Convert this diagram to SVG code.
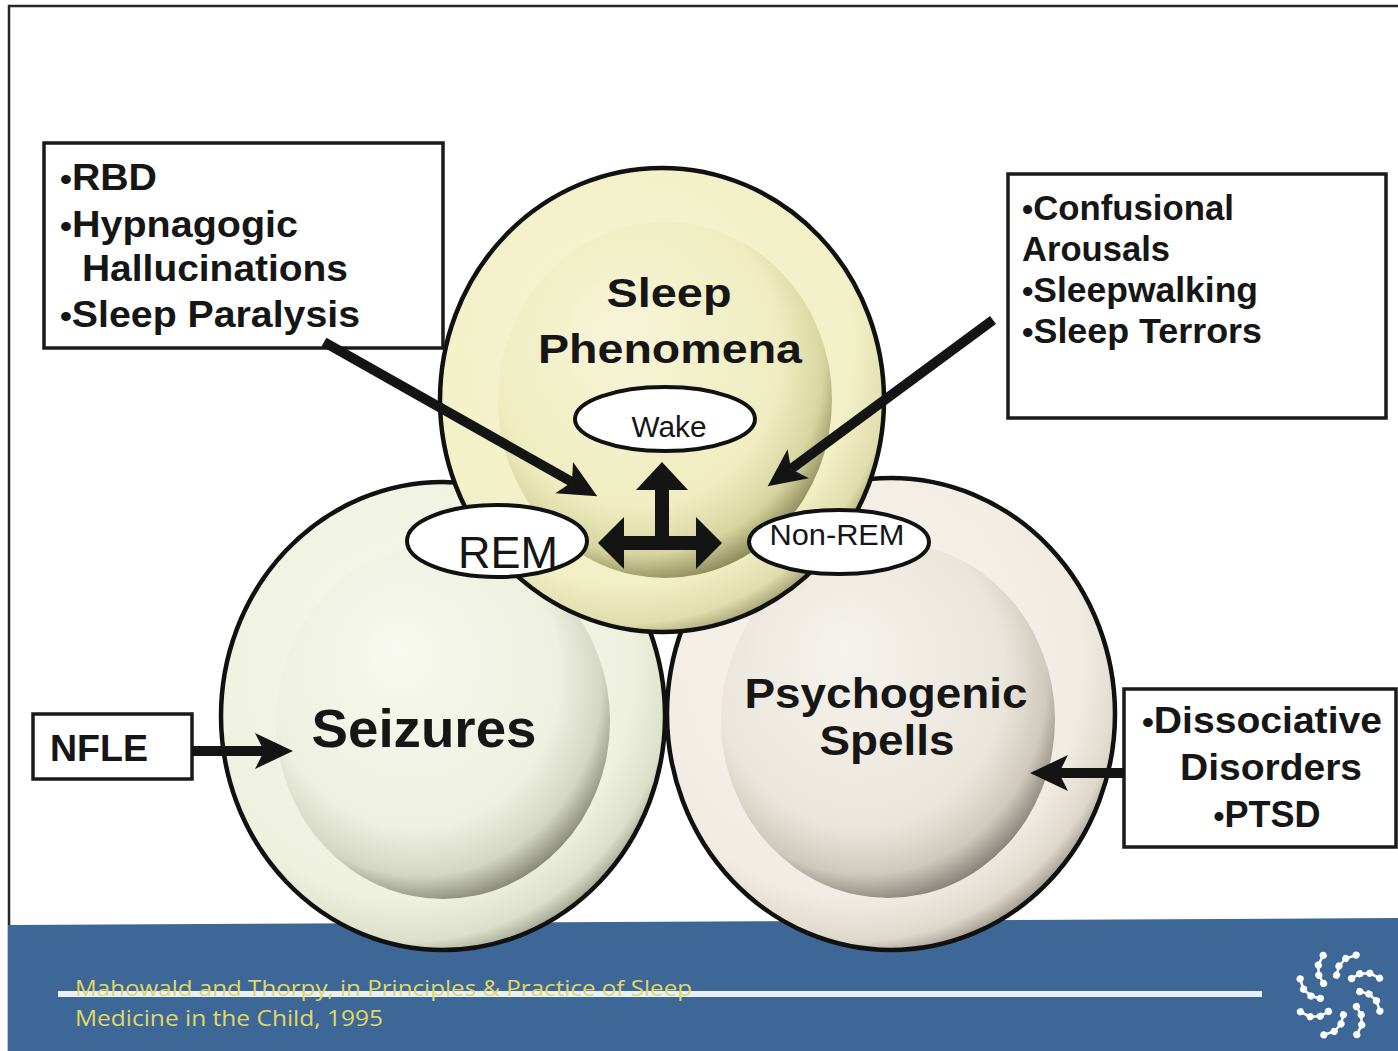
<svg xmlns="http://www.w3.org/2000/svg" xmlns:xlink="http://www.w3.org/1999/xlink" width="1398" height="1051" viewBox="0 0 1398 1051">
  <style>
    .bold { font-family: "Liberation Sans", Arial, sans-serif; font-weight: bold; fill: #161616; }
    .reg { font-family: "Liberation Sans", Arial, sans-serif; fill: #161616; }
    .dot { font-size: 32px; }
    .box { fill: #ffffff; stroke: #1a1a1a; stroke-width: 3.5; }
    .rim { stroke: #111111; stroke-width: 4.5; }
    .oval { fill: #ffffff; stroke: #111111; stroke-width: 4; }
    .conn { fill: none; stroke: #141414; stroke-width: 10; }
    .cite { font-family: "Open Sans", "Liberation Sans", sans-serif; fill: #e2d766; font-size: 21px; }
  </style>
  <defs>
    <!-- outer rings -->
    <radialGradient id="ringSeiz" cx="0.42" cy="0.38" r="0.64">
      <stop offset="0" stop-color="#f7f8ee"/>
      <stop offset="0.8" stop-color="#eef1de"/>
      <stop offset="0.94" stop-color="#dcdfc9"/>
      <stop offset="1" stop-color="#a8ab96"/>
    </radialGradient>
    <radialGradient id="ringSleep" cx="0.42" cy="0.38" r="0.64">
      <stop offset="0" stop-color="#f7f5d6"/>
      <stop offset="0.8" stop-color="#f2f0c6"/>
      <stop offset="0.94" stop-color="#e0deac"/>
      <stop offset="1" stop-color="#aba97b"/>
    </radialGradient>
    <radialGradient id="ringPsy" cx="0.42" cy="0.38" r="0.64">
      <stop offset="0" stop-color="#f7f4ee"/>
      <stop offset="0.8" stop-color="#f1ece3"/>
      <stop offset="0.94" stop-color="#ded8cc"/>
      <stop offset="1" stop-color="#a6a095"/>
    </radialGradient>
    <!-- inner spheres, lit from the upper left -->
    <radialGradient id="coreSeiz" cx="0.44" cy="0.4" r="0.62" fx="0.36" fy="0.3">
      <stop offset="0" stop-color="#f8f9f0"/>
      <stop offset="0.7" stop-color="#eef0e0"/>
      <stop offset="0.88" stop-color="#d4d7c2"/>
      <stop offset="1" stop-color="#858773"/>
    </radialGradient>
    <radialGradient id="coreSleep" cx="0.44" cy="0.4" r="0.62" fx="0.36" fy="0.3">
      <stop offset="0" stop-color="#f7f5d8"/>
      <stop offset="0.7" stop-color="#efedc0"/>
      <stop offset="0.88" stop-color="#d7d59f"/>
      <stop offset="1" stop-color="#8a8858"/>
    </radialGradient>
    <radialGradient id="corePsy" cx="0.44" cy="0.4" r="0.62" fx="0.36" fy="0.3">
      <stop offset="0" stop-color="#f6f3ed"/>
      <stop offset="0.7" stop-color="#ebe6dc"/>
      <stop offset="0.88" stop-color="#d0c9bd"/>
      <stop offset="1" stop-color="#857f76"/>
    </radialGradient>
    <marker id="barb" markerUnits="userSpaceOnUse" viewBox="0 0 40 40" markerWidth="40" markerHeight="40" refX="9" refY="20" orient="auto">
      <path d="M0,2 L38,20 L0,38 L9,20 Z" fill="#141414"/>
    </marker>
    <!-- one arm of the logo spiral -->
    <g id="arm">
      <polyline points="17,-10.6 26.5,-11.8 36,-8.3 43,0" fill="none" stroke="#ffffff" stroke-width="2.5"/>
      <circle cx="17" cy="-10.6" r="3.6" fill="#ffffff"/>
      <circle cx="26.5" cy="-11.8" r="3.6" fill="#ffffff"/>
      <circle cx="36" cy="-8.3" r="3.6" fill="#ffffff"/>
      <circle cx="43" cy="0" r="3.6" fill="#ffffff"/>
    </g>
  </defs>

  <rect x="0" y="0" width="1398" height="1051" fill="#ffffff"/>
  <rect x="9" y="6" width="1395" height="1050" fill="none" stroke="#262626" stroke-width="2.5"/>

  <!-- footer band -->
  <g id="footer">
    <polygon points="8,925 1398,918 1398,1051 8,1051" fill="#3d6797"/>
    <line x1="58" y1="994" x2="1262" y2="994" stroke="#e9f0f8" stroke-width="6"/>
    <text class="cite" x="75" y="996" textLength="617" lengthAdjust="spacingAndGlyphs">Mahowald and Thorpy, in Principles &amp; Practice of Sleep</text>
    <text class="cite" x="75" y="1026" textLength="308" lengthAdjust="spacingAndGlyphs">Medicine in the Child, 1995</text>
    <g id="logo" transform="translate(1340,995)">
      <use xlink:href="#arm" href="#arm" transform="rotate(-23)"/>
      <use xlink:href="#arm" href="#arm" transform="rotate(22)"/>
      <use xlink:href="#arm" href="#arm" transform="rotate(67)"/>
      <use xlink:href="#arm" href="#arm" transform="rotate(112)"/>
      <use xlink:href="#arm" href="#arm" transform="rotate(157)"/>
      <use xlink:href="#arm" href="#arm" transform="rotate(202)"/>
      <use xlink:href="#arm" href="#arm" transform="rotate(247)"/>
      <use xlink:href="#arm" href="#arm" transform="rotate(292)"/>
    </g>
  </g>

  <!-- Seizures -->
  <g id="seizures">
    <ellipse cx="443" cy="716" rx="222" ry="234" fill="url(#ringSeiz)" class="rim"/>
    <ellipse cx="443" cy="721" rx="167" ry="178" fill="url(#coreSeiz)"/>
    <text class="bold" x="424" y="747" font-size="54" text-anchor="middle" textLength="225" lengthAdjust="spacingAndGlyphs">Seizures</text>
  </g>

  <!-- Psychogenic Spells -->
  <g id="psychogenic">
    <ellipse cx="891" cy="714" rx="224" ry="236" fill="url(#ringPsy)" class="rim"/>
    <ellipse cx="888" cy="720" rx="167" ry="178" fill="url(#corePsy)"/>
    <text class="bold" x="886" y="708" font-size="43" text-anchor="middle" textLength="283" lengthAdjust="spacingAndGlyphs">Psychogenic</text>
    <text class="bold" x="887" y="755" font-size="43" text-anchor="middle" textLength="135" lengthAdjust="spacingAndGlyphs">Spells</text>
  </g>

  <!-- Sleep Phenomena -->
  <g id="sleep-phenomena">
    <ellipse cx="662" cy="400" rx="222" ry="232" fill="url(#ringSleep)" class="rim"/>
    <ellipse cx="665" cy="400" rx="167" ry="178" fill="url(#coreSleep)"/>
    <text class="bold" x="669" y="307" font-size="41" text-anchor="middle" textLength="125" lengthAdjust="spacingAndGlyphs">Sleep</text>
    <text class="bold" x="670" y="363" font-size="41" text-anchor="middle" textLength="264" lengthAdjust="spacingAndGlyphs">Phenomena</text>
  </g>

  <!-- state ovals -->
  <g id="wake">
    <ellipse cx="665" cy="419" rx="90" ry="32" class="oval"/>
    <text class="reg" x="669" y="437" font-size="29" text-anchor="middle" textLength="75" lengthAdjust="spacingAndGlyphs">Wake</text>
  </g>
  <g id="rem">
    <ellipse cx="497" cy="541" rx="90" ry="36" class="oval"/>
    <text class="reg" x="508" y="568" font-size="45" text-anchor="middle" textLength="100" lengthAdjust="spacingAndGlyphs">REM</text>
  </g>
  <g id="non-rem">
    <ellipse cx="839" cy="542" rx="90" ry="32" class="oval"/>
    <text class="reg" x="837" y="545" font-size="29" text-anchor="middle" textLength="135" lengthAdjust="spacingAndGlyphs">Non-REM</text>
  </g>

  <!-- text boxes -->
  <g id="rem-disorders">
    <rect x="44" y="143" width="399" height="205" class="box"/>
    <text class="bold" x="60" y="190" font-size="37" textLength="97" lengthAdjust="spacingAndGlyphs"><tspan class="dot">•</tspan>RBD</text>
    <text class="bold" x="60" y="237" font-size="37" textLength="238" lengthAdjust="spacingAndGlyphs"><tspan class="dot">•</tspan>Hypnagogic</text>
    <text class="bold" x="82" y="281" font-size="37" textLength="266" lengthAdjust="spacingAndGlyphs">Hallucinations</text>
    <text class="bold" x="60" y="327" font-size="37" textLength="300" lengthAdjust="spacingAndGlyphs"><tspan class="dot">•</tspan>Sleep Paralysis</text>
  </g>
  <g id="nrem-disorders">
    <rect x="1008" y="174" width="378" height="244" class="box"/>
    <text class="bold" x="1022" y="220" font-size="35" textLength="212" lengthAdjust="spacingAndGlyphs"><tspan class="dot">•</tspan>Confusional</text>
    <text class="bold" x="1022" y="261" font-size="35" textLength="148" lengthAdjust="spacingAndGlyphs">Arousals</text>
    <text class="bold" x="1022" y="302" font-size="35" textLength="236" lengthAdjust="spacingAndGlyphs"><tspan class="dot">•</tspan>Sleepwalking</text>
    <text class="bold" x="1022" y="343" font-size="35" textLength="240" lengthAdjust="spacingAndGlyphs"><tspan class="dot">•</tspan>Sleep Terrors</text>
  </g>
  <g id="nfle">
    <rect x="33" y="714" width="159" height="65" class="box"/>
    <text class="bold" x="50" y="761" font-size="37" textLength="98" lengthAdjust="spacingAndGlyphs">NFLE</text>
  </g>
  <g id="psy-disorders">
    <rect x="1124" y="689" width="272" height="158" class="box"/>
    <text class="bold" x="1262" y="733" font-size="37" text-anchor="middle" textLength="240" lengthAdjust="spacingAndGlyphs"><tspan class="dot">•</tspan>Dissociative</text>
    <text class="bold" x="1271" y="780" font-size="37" text-anchor="middle" textLength="182" lengthAdjust="spacingAndGlyphs">Disorders</text>
    <text class="bold" x="1267" y="827" font-size="37" text-anchor="middle" textLength="107" lengthAdjust="spacingAndGlyphs"><tspan class="dot">•</tspan>PTSD</text>
  </g>

  <!-- connectors -->
  <g id="connectors">
    <path class="conn" d="M324,342 L572,482" marker-end="url(#barb)"/>
    <path class="conn" d="M993,320 L791,469" marker-end="url(#barb)"/>
    <path class="conn" d="M192,751 L264,751" marker-end="url(#barb)"/>
    <path class="conn" d="M1124,773 L1059,773" marker-end="url(#barb)"/>
    <!-- Wake / REM / Non-REM transition cross -->
    <path d="M598,543 L624,517 L624,536 L655,536 L655,490 L636,490 L662,462 L688,490 L669,490 L669,536 L696,536 L696,517 L722,543 L696,569 L696,550 L624,550 L624,569 Z" fill="#141414"/>
  </g>
</svg>
